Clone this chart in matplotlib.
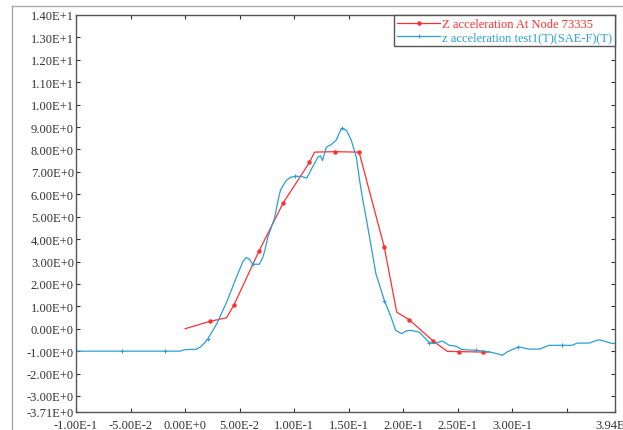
import matplotlib
matplotlib.use("Agg")
import matplotlib.pyplot as plt
from matplotlib.ticker import FuncFormatter, FixedLocator
from matplotlib.lines import Line2D

plt.rcParams['font.family'] = ['Liberation Serif', 'DejaVu Serif']

# ---- data ----
red_label = "Z acceleration At Node 73335"
blue_label = "z acceleration test1(T)(SAE-F)(T)"

red_x = [0.000, 0.0228, 0.038, 0.0450, 0.0676, 0.0900, 0.1140, 0.1187, 0.1370, 0.1595,
         0.1825, 0.1940, 0.2052, 0.2277, 0.2404, 0.2510, 0.2735, 0.2790]
red_y = [0.00, 0.33, 0.49, 1.08, 3.45, 5.62, 7.42, 7.88, 7.90, 7.88,
         3.66, 0.74, 0.41, -0.56, -1.01, -1.02, -1.04, -1.04]
red_marks = [1, 3, 4, 5, 6, 8, 9, 10, 12, 13, 15, 16]

blue_x = [-0.100, -0.058, -0.018, -0.005, 0.000, 0.010, 0.014, 0.018, 0.021, 0.029,
          0.038, 0.047, 0.053, 0.056, 0.059, 0.062, 0.068, 0.071, 0.073, 0.0757,
          0.082, 0.085, 0.0875, 0.0928, 0.097, 0.101, 0.1065, 0.1115, 0.117, 0.1217,
          0.124, 0.126, 0.1294, 0.134, 0.1386, 0.1415, 0.1435, 0.1477, 0.1523, 0.157,
          0.160, 0.163, 0.166, 0.175, 0.178, 0.1827, 0.1888, 0.193, 0.1985, 0.2025,
          0.207, 0.2147, 0.224, 0.2285, 0.236, 0.242, 0.2483, 0.254, 0.2666, 0.279,
          0.288, 0.291, 0.2953, 0.3056, 0.3154, 0.3245, 0.3337, 0.3459, 0.3545, 0.3596,
          0.3703, 0.3794, 0.384, 0.390, 0.394]
blue_y = [-1.00, -1.00, -1.00, -1.00, -0.93, -0.92, -0.82, -0.62, -0.44, 0.22,
          1.18, 2.29, 3.00, 3.18, 3.10, 2.88, 2.88, 3.15, 3.48, 4.06,
          4.94, 5.68, 6.20, 6.62, 6.76, 6.80, 6.80, 6.72, 7.23, 7.65,
          7.72, 7.50, 8.10, 8.22, 8.42, 8.75, 8.94, 8.86, 8.42, 7.65,
          6.61, 5.72, 4.94, 2.44, 1.98, 1.26, 0.52, -0.07, -0.22, -0.10,
          -0.07, -0.15, -0.63, -0.66, -0.55, -0.74, -0.78, -0.93, -0.96, -1.03,
          -1.14, -1.18, -1.03, -0.81, -0.91, -0.91, -0.74, -0.74, -0.74, -0.64,
          -0.64, -0.49, -0.55, -0.64, -0.66]
blue_marks = [1, 2, 8, 15, 25, 36, 45, 52, 58, 63, 67]

x_ticks = [-0.1, -0.05, 0.0, 0.05, 0.10, 0.15, 0.20, 0.25, 0.30, 0.35, 0.394]
x_tick_labels = ["-1.00E-1", "-5.00E-2", "0.00E+0", "5.00E-2", "1.00E-1", "1.50E-1",
                 "2.00E-1", "2.50E-1", "3.00E-1", "", "3.94E-1"]
y_ticks = [-3.71, -3, -2, -1, 0, 1, 2, 3, 4, 5, 6, 7, 8, 9, 10, 11, 12, 13, 14]

RED = '#ff3030'
BLUE = '#2c9ed8'

fig = plt.figure(figsize=(6.23, 4.31), dpi=100)
ax = fig.add_axes([0.122, 0.042, 0.865, 0.921])

ax.plot(red_x, red_y, color=RED, lw=0.9, marker='o', ms=2.2, markevery=red_marks,
        label=red_label)
ax.plot(blue_x, blue_y, color=BLUE, lw=0.9, marker='+', ms=3.5, mew=0.8,
        markevery=blue_marks, label=blue_label)

ax.set_xlim(-0.1, 0.394)
ax.set_ylim(-3.71, 14)

def yfmt(v, pos):
    m, e = f"{v:.2E}".split("E")
    return f"{m}E{int(e):+d}"

ax.xaxis.set_major_locator(FixedLocator(x_ticks))
ax.set_xticklabels(x_tick_labels)
ax.yaxis.set_major_locator(FixedLocator(y_ticks))
ax.yaxis.set_major_formatter(FuncFormatter(yfmt))

ax.tick_params(direction='in', length=3, width=0.8, top=True, right=True,
               labelsize=9, colors='#333333')
ax.tick_params(axis='y', pad=1.5)
ax.tick_params(axis='x', pad=5)
for s in ax.spines.values():
    s.set_color('#555555')
    s.set_linewidth(1.0)

leg = ax.legend(loc='upper right', bbox_to_anchor=(1.0, 1.0), borderaxespad=0.0,
                fontsize=9, handlelength=3.4, handletextpad=0.15, borderpad=0.25,
                labelspacing=0.1, fancybox=False, framealpha=1.0, edgecolor='#555555',
                numpoints=1)
leg.get_frame().set_linewidth(1.0)
for t, c in zip(leg.get_texts(), [RED, BLUE]):
    t.set_color(c)

# figure border lines
fig.add_artist(Line2D([0.020, 0.020], [0.0, 0.984], transform=fig.transFigure,
                      color='#aaaaaa', lw=1.0))
fig.add_artist(Line2D([0.020, 1.0], [0.984, 0.984], transform=fig.transFigure,
                      color='#aaaaaa', lw=1.0))

fig.savefig("out.png", dpi=100)
